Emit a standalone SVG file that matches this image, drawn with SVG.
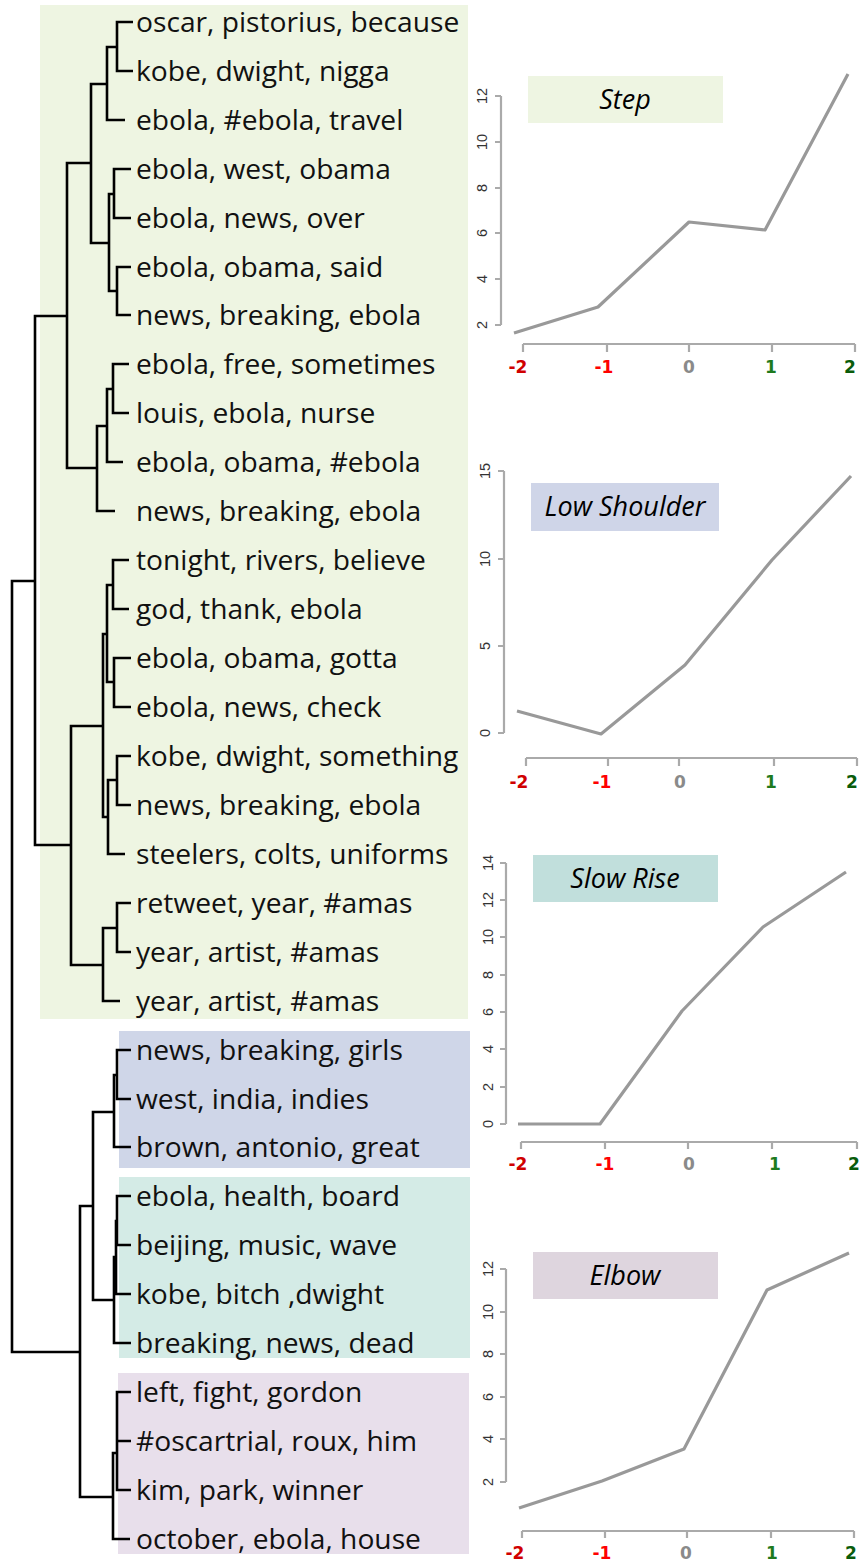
<svg xmlns="http://www.w3.org/2000/svg" width="863" height="1561" viewBox="0 0 863 1561">
<style>
.lbl{font-family:"Open Sans","Liberation Sans",sans-serif;font-size:28.2px;fill:#111}
.den{fill:none;stroke:#000;stroke-width:2.6;stroke-linejoin:miter;stroke-linecap:butt}
.ax{fill:none;stroke:#aaa;stroke-width:2.2}
.ser{fill:none;stroke:#999;stroke-width:3.2;stroke-linejoin:round}
.yt{font-family:"Liberation Sans",Arial,sans-serif;font-size:14.5px;fill:#333;text-anchor:middle}
.xt{font-family:"DejaVu Sans",sans-serif;font-weight:bold;font-size:17px;text-anchor:middle}
.ttl{font-family:"Open Sans","Liberation Sans",sans-serif;font-style:italic;font-size:27px;fill:#000;text-anchor:middle}
.m2{fill:#d00000}.m1{fill:#ff0000}.z0{fill:#8a8a8a}.p1{fill:#1e7a1e}.p2{fill:#0a5c0a}
</style>
<rect width="863" height="1561" fill="#fff"/>
<g id="cluster-step"><rect x="40" y="5" width="428" height="1014" fill="#eef5e2"/></g>
<g id="cluster-lowshoulder"><rect x="119" y="1031" width="351" height="137" fill="#cfd6e8"/></g>
<g id="cluster-slowrise"><rect x="119" y="1177" width="351" height="181" fill="#d4ebe6"/></g>
<g id="cluster-elbow"><rect x="118" y="1373" width="351" height="181" fill="#e8dfeb"/></g>

<g id="connectors" class="den">
<path d="M133,22 H117 V71 H133"/>
<path d="M117,47 H107 V120 H125"/>
<path d="M131,169 H114 V218 H131"/>
<path d="M131,267 H117 V315 H131"/>
<path d="M114,194 H109 V291 H117"/>
<path d="M107,84 H91 V243 H109"/>
<path d="M129,364 H113 V413 H129"/>
<path d="M113,389 H107 V462 H123"/>
<path d="M107,426 H97 V511 H115"/>
<path d="M91,163 H67 V468 H97"/>
<path d="M129,560 H113 V609 H129"/>
<path d="M131,658 H114 V707 H131"/>
<path d="M113,585 H107 V682 H114"/>
<path d="M131,756 H117 V805 H131"/>
<path d="M117,780 H108 V854 H125"/>
<path d="M107,634 H103 V817 H108"/>
<path d="M131,903 H117 V952 H131"/>
<path d="M117,928 H103 V1001 H120"/>
<path d="M103,726 H71 V965 H103"/>
<path d="M67,316 H35 V845 H71"/>
<path d="M35,581 H12 V1352 H80"/>
<path d="M131,1050 H117 V1099 H131"/>
<path d="M117,1075 H114 V1147 H131"/>
<path d="M131,1196 H117 V1245 H131"/>
<path d="M117,1221 H116 V1294 H131"/>
<path d="M116,1257 H114 V1343 H131"/>
<path d="M114,1112 H93 V1300 H114"/>
<path d="M131,1392 H117 V1490 H131 M117,1441 H131"/>
<path d="M117,1453 H113 V1539 H130"/>
<path d="M93,1206 H80 V1497 H113"/>
</g>

<g id="leaf-0"><text class="lbl" x="136" y="32">oscar, pistorius, because</text></g>
<g id="leaf-1"><text class="lbl" x="136" y="81">kobe, dwight, nigga</text></g>
<g id="leaf-2"><text class="lbl" x="136" y="130">ebola, #ebola, travel</text></g>
<g id="leaf-3"><text class="lbl" x="136" y="179">ebola, west, obama</text></g>
<g id="leaf-4"><text class="lbl" x="136" y="228">ebola, news, over</text></g>
<g id="leaf-5"><text class="lbl" x="136" y="277">ebola, obama, said</text></g>
<g id="leaf-6"><text class="lbl" x="136" y="325">news, breaking, ebola</text></g>
<g id="leaf-7"><text class="lbl" x="136" y="374">ebola, free, sometimes</text></g>
<g id="leaf-8"><text class="lbl" x="136" y="423">louis, ebola, nurse</text></g>
<g id="leaf-9"><text class="lbl" x="136" y="472">ebola, obama, #ebola</text></g>
<g id="leaf-10"><text class="lbl" x="136" y="521">news, breaking, ebola</text></g>
<g id="leaf-11"><text class="lbl" x="136" y="570">tonight, rivers, believe</text></g>
<g id="leaf-12"><text class="lbl" x="136" y="619">god, thank, ebola</text></g>
<g id="leaf-13"><text class="lbl" x="136" y="668">ebola, obama, gotta</text></g>
<g id="leaf-14"><text class="lbl" x="136" y="717">ebola, news, check</text></g>
<g id="leaf-15"><text class="lbl" x="136" y="766">kobe, dwight, something</text></g>
<g id="leaf-16"><text class="lbl" x="136" y="815">news, breaking, ebola</text></g>
<g id="leaf-17"><text class="lbl" x="136" y="864">steelers, colts, uniforms</text></g>
<g id="leaf-18"><text class="lbl" x="136" y="913">retweet, year, #amas</text></g>
<g id="leaf-19"><text class="lbl" x="136" y="962">year, artist, #amas</text></g>
<g id="leaf-20"><text class="lbl" x="136" y="1011">year, artist, #amas</text></g>
<g id="leaf-21"><text class="lbl" x="136" y="1060">news, breaking, girls</text></g>
<g id="leaf-22"><text class="lbl" x="136" y="1109">west, india, indies</text></g>
<g id="leaf-23"><text class="lbl" x="136" y="1157">brown, antonio, great</text></g>
<g id="leaf-24"><text class="lbl" x="136" y="1206">ebola, health, board</text></g>
<g id="leaf-25"><text class="lbl" x="136" y="1255">beijing, music, wave</text></g>
<g id="leaf-26"><text class="lbl" x="136" y="1304">kobe, bitch ,dwight</text></g>
<g id="leaf-27"><text class="lbl" x="136" y="1353">breaking, news, dead</text></g>
<g id="leaf-28"><text class="lbl" x="136" y="1402">left, fight, gordon</text></g>
<g id="leaf-29"><text class="lbl" x="136" y="1451">#oscartrial, roux, him</text></g>
<g id="leaf-30"><text class="lbl" x="136" y="1500">kim, park, winner</text></g>
<g id="leaf-31"><text class="lbl" x="136" y="1549">october, ebola, house</text></g>

<!-- Chart 1: Step -->
<g id="chart-step">
<rect x="528" y="76" width="195" height="47" fill="#eef5e2"/>
<text class="ttl" x="625" y="109">Step</text>
<path class="ax" d="M501,96 V325 M495,96 H501 M495,142 H501 M495,188 H501 M495,233 H501 M495,279 H501 M495,325 H501"/>
<text class="yt" transform="translate(487,325) rotate(-90)">2</text>
<text class="yt" transform="translate(487,279) rotate(-90)">4</text>
<text class="yt" transform="translate(487,233) rotate(-90)">6</text>
<text class="yt" transform="translate(487,188) rotate(-90)">8</text>
<text class="yt" transform="translate(487,142) rotate(-90)">10</text>
<text class="yt" transform="translate(487,96) rotate(-90)">12</text>
<path class="ax" d="M523,344 H855 M523,344 V352 M607,344 V352 M689,344 V352 M772,344 V352 M855,344 V352"/>
<text class="xt m2" x="518" y="373">-2</text>
<text class="xt m1" x="604" y="373">-1</text>
<text class="xt z0" x="689" y="373">0</text>
<text class="xt p1" x="771" y="373">1</text>
<text class="xt p2" x="850" y="373">2</text>
<polyline class="ser" points="514,333 598,307 689,222 765,230 848,74"/>
</g>

<!-- Chart 2: Low Shoulder -->
<g id="chart-lowshoulder">
<rect x="531" y="483" width="188" height="48" fill="#cfd5e8"/>
<text class="ttl" x="625" y="516">Low Shoulder</text>
<path class="ax" d="M504,471 V733 M498,471 H504 M498,559 H504 M498,646 H504 M498,733 H504"/>
<text class="yt" transform="translate(490,733) rotate(-90)">0</text>
<text class="yt" transform="translate(490,646) rotate(-90)">5</text>
<text class="yt" transform="translate(490,559) rotate(-90)">10</text>
<text class="yt" transform="translate(490,471) rotate(-90)">15</text>
<path class="ax" d="M526,758 H857 M526,758 V766 M608,758 V766 M679,758 V766 M774,758 V766 M857,758 V766"/>
<text class="xt m2" x="519" y="788">-2</text>
<text class="xt m1" x="602" y="788">-1</text>
<text class="xt z0" x="680" y="788">0</text>
<text class="xt p1" x="771" y="788">1</text>
<text class="xt p2" x="852" y="788">2</text>
<polyline class="ser" points="517,711 601,734 685,665 772,560 851,476"/>
</g>

<!-- Chart 3: Slow Rise -->
<g id="chart-slowrise">
<rect x="533" y="855" width="185" height="47" fill="#c1dfdc"/>
<text class="ttl" x="625" y="888">Slow Rise</text>
<path class="ax" d="M506,863 V1124 M500,863 H506 M500,900 H506 M500,937 H506 M500,975 H506 M500,1012 H506 M500,1049 H506 M500,1087 H506 M500,1124 H506"/>
<text class="yt" transform="translate(493,1124) rotate(-90)">0</text>
<text class="yt" transform="translate(493,1087) rotate(-90)">2</text>
<text class="yt" transform="translate(493,1049) rotate(-90)">4</text>
<text class="yt" transform="translate(493,1012) rotate(-90)">6</text>
<text class="yt" transform="translate(493,975) rotate(-90)">8</text>
<text class="yt" transform="translate(493,937) rotate(-90)">10</text>
<text class="yt" transform="translate(493,900) rotate(-90)">12</text>
<text class="yt" transform="translate(493,863) rotate(-90)">14</text>
<path class="ax" d="M521,1142 H857 M521,1142 V1149 M605,1142 V1149 M688,1142 V1149 M772,1142 V1149 M857,1142 V1149"/>
<text class="xt m2" x="518" y="1170">-2</text>
<text class="xt m1" x="605" y="1170">-1</text>
<text class="xt z0" x="689" y="1170">0</text>
<text class="xt p1" x="775" y="1170">1</text>
<text class="xt p2" x="854" y="1170">2</text>
<polyline class="ser" points="518,1124 600,1124 682,1011 763,927 846,872"/>
</g>

<!-- Chart 4: Elbow -->
<g id="chart-elbow">
<rect x="533" y="1252" width="185" height="47" fill="#ded5de"/>
<text class="ttl" x="625" y="1285">Elbow</text>
<path class="ax" d="M506,1269 V1482 M500,1269 H506 M500,1312 H506 M500,1354 H506 M500,1397 H506 M500,1439 H506 M500,1482 H506"/>
<text class="yt" transform="translate(493,1482) rotate(-90)">2</text>
<text class="yt" transform="translate(493,1439) rotate(-90)">4</text>
<text class="yt" transform="translate(493,1397) rotate(-90)">6</text>
<text class="yt" transform="translate(493,1354) rotate(-90)">8</text>
<text class="yt" transform="translate(493,1312) rotate(-90)">10</text>
<text class="yt" transform="translate(493,1269) rotate(-90)">12</text>
<path class="ax" d="M522,1531 H854 M522,1531 V1538 M605,1531 V1538 M687,1531 V1538 M771,1531 V1538 M854,1531 V1538"/>
<text class="xt m2" x="515" y="1559">-2</text>
<text class="xt m1" x="602" y="1559">-1</text>
<text class="xt z0" x="686" y="1559">0</text>
<text class="xt p1" x="772" y="1559">1</text>
<text class="xt p2" x="851" y="1559">2</text>
<polyline class="ser" points="519,1508 602,1481 684,1449 767,1290 849,1253"/>
</g>
</svg>
